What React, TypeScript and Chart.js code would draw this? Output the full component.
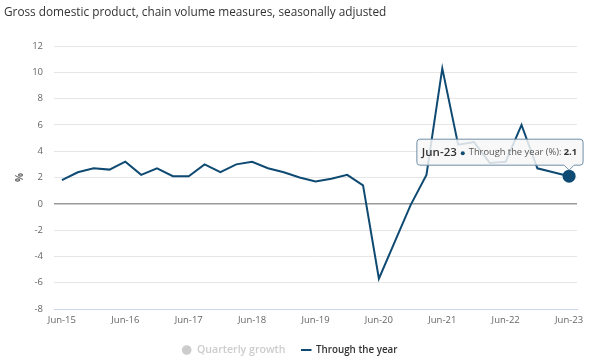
import React, { useEffect, useRef } from 'react';
import { Chart, registerables } from 'chart.js';

Chart.register(...registerables);

const TITLE = 'Gross domestic product, chain volume measures, seasonally adjusted';
const Y_TITLE = '%';
const SERIES_QUARTERLY = 'Quarterly growth';
const SERIES_TTY = 'Through the year';

const quarters = [
  'Jun-15', 'Sep-15', 'Dec-15', 'Mar-16',
  'Jun-16', 'Sep-16', 'Dec-16', 'Mar-17',
  'Jun-17', 'Sep-17', 'Dec-17', 'Mar-18',
  'Jun-18', 'Sep-18', 'Dec-18', 'Mar-19',
  'Jun-19', 'Sep-19', 'Dec-19', 'Mar-20',
  'Jun-20', 'Sep-20', 'Dec-20', 'Mar-21',
  'Jun-21', 'Sep-21', 'Dec-21', 'Mar-22',
  'Jun-22', 'Sep-22', 'Dec-22', 'Mar-23',
  'Jun-23',
];

const throughTheYear = [
  1.8, 2.4, 2.7, 2.6,
  3.2, 2.2, 2.7, 2.1,
  2.1, 3.0, 2.4, 3.0,
  3.2, 2.7, 2.4, 2.0,
  1.7, 1.9, 2.2, 1.4,
  -5.7, -2.9, -0.1, 2.2,
  10.3, 4.5, 4.7, 3.1,
  3.2, 6.0, 2.7, 2.4,
  2.1,
];

// Hidden in the reference (legend item greyed out), so no values are drawn.
const quarterlyGrowth: number[] = [];

const Y_MIN = -8;
const Y_MAX = 12;
const Y_STEP = 2;

const LINE_COLOR = '#0f4a72';
const FONT = '"Open Sans", "Noto Sans", sans-serif';

const overlayPlugin = {
  id: 'overlay',
  afterDraw(chart: any) {
    const ctx = chart.ctx as CanvasRenderingContext2D;
    ctx.save();

    // Title
    ctx.font = `11.8px ${FONT}`;
    ctx.fillStyle = '#333333';
    ctx.textAlign = 'left';
    ctx.textBaseline = 'middle';
    ctx.fillText(TITLE, 4, 13);

    // Legend
    const ly = 350;
    ctx.beginPath();
    ctx.arc(186.7, ly, 4.8, 0, Math.PI * 2);
    ctx.fillStyle = '#cccccc';
    ctx.fill();
    ctx.font = `600 10.6px ${FONT}`;
    ctx.fillStyle = '#cccccc';
    ctx.fillText(SERIES_QUARTERLY, 197, ly);
    ctx.beginPath();
    ctx.moveTo(301, ly);
    ctx.lineTo(311.5, ly);
    ctx.lineWidth = 2;
    ctx.strokeStyle = LINE_COLOR;
    ctx.stroke();
    ctx.font = `600 9.8px ${FONT}`;
    ctx.fillStyle = '#333333';
    ctx.fillText(SERIES_TTY, 316, ly);

    // Tooltip for the last point
    const meta = chart.getDatasetMeta(1);
    const idx = throughTheYear.length - 1;
    const pt = meta.data[idx];
    if (pt) {
      const px = pt.x;
      const py = pt.y;
      const headFont = `600 11.5px ${FONT}`;
      const bodyFont = `9.3px ${FONT}`;
      const valFont = `bold 9.3px ${FONT}`;
      const head = quarters[idx];
      const label = `${SERIES_TTY} (%): `;
      const val = String(throughTheYear[idx]);
      ctx.font = headFont;
      const wHead = ctx.measureText(head).width;
      ctx.font = bodyFont;
      const wLabel = ctx.measureText(label).width;
      ctx.font = valFont;
      const wVal = ctx.measureText(val).width;
      const padL = 5;
      const padR = 6;
      const dotGap = 12;
      const boxW = padL + wHead + dotGap + wLabel + wVal + padR;
      const boxH = 26;
      const right = px + 14;
      const bottom = py - 11;
      const left = right - boxW;
      const top = bottom - boxH;
      const r = 3;

      ctx.beginPath();
      ctx.moveTo(left + r, top);
      ctx.lineTo(right - r, top);
      ctx.quadraticCurveTo(right, top, right, top + r);
      ctx.lineTo(right, bottom - r);
      ctx.quadraticCurveTo(right, bottom, right - r, bottom);
      ctx.lineTo(px + 5, bottom);
      ctx.lineTo(px, bottom + 5);
      ctx.lineTo(px - 5, bottom);
      ctx.lineTo(left + r, bottom);
      ctx.quadraticCurveTo(left, bottom, left, bottom - r);
      ctx.lineTo(left, top + r);
      ctx.quadraticCurveTo(left, top, left + r, top);
      ctx.closePath();
      ctx.fillStyle = 'rgba(247,247,247,0.85)';
      ctx.fill();
      ctx.lineWidth = 1;
      ctx.strokeStyle = '#6f8ea6';
      ctx.stroke();

      const ty = top + boxH / 2 + 0.5;
      let x = left + padL;
      ctx.font = headFont;
      ctx.fillStyle = '#333333';
      ctx.fillText(head, x, ty);
      x += wHead;
      ctx.beginPath();
      ctx.arc(x + 6, ty + 0.5, 2, 0, Math.PI * 2);
      ctx.fillStyle = LINE_COLOR;
      ctx.fill();
      x += dotGap;
      ctx.font = bodyFont;
      ctx.fillStyle = '#555555';
      ctx.fillText(label, x, ty);
      x += wLabel;
      ctx.font = valFont;
      ctx.fillStyle = '#333333';
      ctx.fillText(val, x, ty);
    }
    ctx.restore();
  },
};

export default function App() {
  const canvasRef = useRef<HTMLCanvasElement | null>(null);

  useEffect(() => {
    const canvas = canvasRef.current;
    if (!canvas) return;
    const lastIdx = throughTheYear.length - 1;
    const chart = new Chart(canvas, {
      type: 'line',
      data: {
        labels: quarters,
        datasets: [
          {
            label: SERIES_QUARTERLY,
            data: quarterlyGrowth,
            hidden: true,
            borderColor: '#cccccc',
            backgroundColor: '#cccccc',
          },
          {
            label: SERIES_TTY,
            data: throughTheYear,
            borderColor: LINE_COLOR,
            backgroundColor: LINE_COLOR,
            borderWidth: 2,
            tension: 0,
            pointRadius: (c: any) => (c.dataIndex === lastIdx ? 6.5 : 0),
            pointBackgroundColor: LINE_COLOR,
            pointBorderColor: LINE_COLOR,
            pointBorderWidth: 0,
          },
        ],
      },
      options: {
        responsive: false,
        animation: false,
        layout: { padding: { top: 46, left: 0, right: 15, bottom: 33 } },
        plugins: {
          legend: { display: false },
          title: { display: false },
          tooltip: { enabled: false },
        },
        scales: {
          x: {
            type: 'category',
            offset: true,
            grid: { display: false, drawTicks: false },
            border: { display: true, color: '#ccd6eb', width: 1 },
            ticks: {
              autoSkip: false,
              maxRotation: 0,
              minRotation: 0,
              padding: 6,
              color: '#666666',
              font: { family: FONT, size: 9.5 },
              callback: (_v: any, i: number) => (i % 4 === 0 ? quarters[i] : ''),
            },
            afterFit: (s: any) => {
              s.height = 20;
            },
          },
          y: {
            min: Y_MIN,
            max: Y_MAX,
            border: { display: false },
            grid: {
              drawTicks: false,
              color: (c: any) =>
                c.tick && c.tick.value === 0
                  ? '#9a9a9a'
                  : c.tick && c.tick.value === Y_MIN
                  ? '#ccd6eb'
                  : '#e6e6e6',
              lineWidth: (c: any) => (c.tick && c.tick.value === 0 ? 1.6 : 1),
            },
            ticks: {
              stepSize: Y_STEP,
              padding: 11,
              color: '#666666',
              font: { family: FONT, size: 9.5 },
            },
            title: {
              display: true,
              text: Y_TITLE,
              color: '#666666',
              font: { family: FONT, size: 10, weight: 'bold' },
              padding: { top: 14.5, bottom: 0 },
            },
            afterFit: (s: any) => {
              s.width = 54;
            },
          },
        },
      },
      plugins: [overlayPlugin],
    });
    return () => chart.destroy();
  }, []);

  return (
    <div style={{ position: 'absolute', left: 0, top: 0, width: 592, height: 362, background: '#ffffff' }}>
      <canvas ref={canvasRef} width={592} height={362} style={{ display: 'block' }} />
    </div>
  );
}
